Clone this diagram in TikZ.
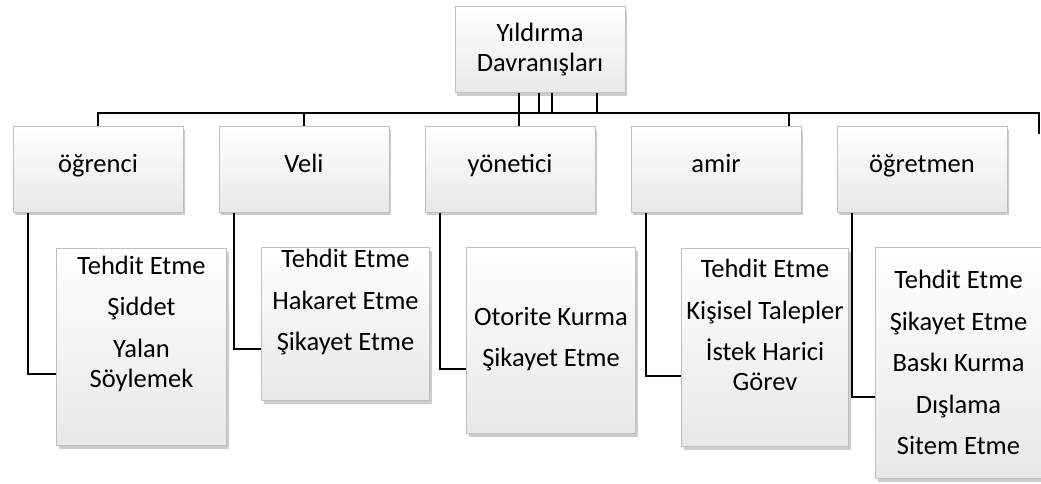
\documentclass[tikz,border=0pt]{standalone}
\usepackage{fontspec}
\setmainfont{Carlito}
\usepackage{tikz}
\usetikzlibrary{positioning,shadows}

\begin{document}
\begin{tikzpicture}[x=1pt,y=-1pt,node distance=35pt,
	box/.style={draw=gray!50,line width=1pt,top color=white,bottom color=gray!18,
		drop shadow={shadow xshift=2pt,shadow yshift=-3pt,opacity=.4},
		minimum width=170pt,minimum height=85pt,inner sep=0pt,align=center,
		font=\fontsize{26.5}{30}\selectfont},
	headbox/.style={box,text height=.75em,text depth=.25em},
	listbox/.style={box,anchor=north west},
	item/.style={align=center,font=\fontsize{26.5}{30}\selectfont},
	link/.style={draw=black,line width=2pt}]
	\useasboundingbox (0,0) rectangle (1041,484);

	\node [box,minimum height=86pt]	(root)		at (540,50)			{Yıldırma\\Davranışları};
	\node [headbox]					(ogrenci)	at (98,169.5)		{öğrenci};
	\node [headbox]					(veli)		[right=of ogrenci]	{Veli};
	\node [headbox]					(yonetici)	[right=of veli]		{yönetici};
	\node [headbox]					(amir)		[right=of yonetici]	{amir};
	\node [headbox]					(ogretmen)	[right=of amir]		{öğretmen};

	\node [listbox,minimum width=170pt,minimum height=197pt]	(ogrenciList)	at (56,248)		{};
	\node [listbox,minimum width=168pt,minimum height=153pt]	(veliList)		at (261,247)	{};
	\node [listbox,minimum width=169pt,minimum height=186pt]	(yoneticiList)	at (466,247)	{};
	\node [listbox,minimum width=167pt,minimum height=198pt]	(amirList)		at (681,248)	{};
	\node [listbox,minimum width=166pt,minimum height=231pt]	(ogretmenList)	at (875,247)	{};

	\node [item]	(ogrenciItems)	at (ogrenciList.north |- 0,323.5)	{Tehdit Etme\\[11.5pt]Şiddet\\[11.5pt]Yalan\\Söylemek};
	\node [item]	(veliItems)		at (veliList.north |- 0,302.5)		{Tehdit Etme\\[11.5pt]Hakaret Etme\\[11.5pt]Şikayet Etme};
	\node [item]	(yoneticiItems)	at (yoneticiList.north |- 0,339)	{Otorite Kurma\\[11.5pt]Şikayet Etme};
	\node [item]	(amirItems)		at (amirList.north |- 0,325)		{Tehdit Etme\\[11.5pt]Kişisel Talepler\\[11.5pt]İstek Harici\\Görev};
	\node [item]	(ogretmenItems)	at (ogretmenList.north |- 0,362.5)	{Tehdit Etme\\[11.5pt]Şikayet Etme\\[11.5pt]Baskı Kurma\\[11.5pt]Dışlama\\[11.5pt]Sitem Etme};

	\coordinate (ogretmenEnd) at ([xshift=31pt,yshift=-8pt]ogretmen.north east);

	\draw [link]	([xshift=-1pt]root.south)	-- ++(0,20) -| (ogrenci.north);
	\draw [link]	([xshift=-1pt]root.south)	-- ++(0,20) -| (ogretmenEnd);
	\draw [link]	([xshift=12pt]root.south)	-- ++(0,20) -| (veli.north);
	\draw [link]	([xshift=-21pt]root.south)	-- ([xshift=-21pt]root.south |- yonetici.north);
	\draw [link]	([xshift=57pt]root.south)	-- ++(0,20) -| ([xshift=73pt]amir.north);

	\draw [link]	([xshift=15pt]ogrenci.south west)	|- ([yshift=-26.5pt]ogrenciList.west);
	\draw [link]	([xshift=15pt]veli.south west)		|- ([yshift=-24.5pt]veliList.west);
	\draw [link]	([xshift=15pt]yonetici.south west)	|- ([yshift=-28pt]yoneticiList.west);
	\draw [link]	([xshift=15pt]amir.south west)		|- ([yshift=-28pt]amirList.west);
	\draw [link]	([xshift=15pt]ogretmen.south west)	|- ([yshift=-33.5pt]ogretmenList.west);
\end{tikzpicture}
\end{document}
